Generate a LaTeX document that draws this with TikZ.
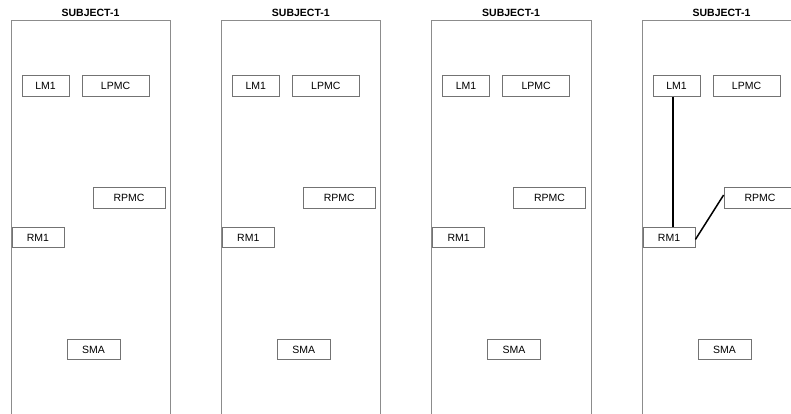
\documentclass[tikz,border=0pt]{standalone}
\usepackage{fontspec}
\setmainfont{Liberation Sans}
\begin{document}
\begin{tikzpicture}[x=1pt,y=-1pt,
  box/.style={draw=black!55,line width=0.8pt,fill=white,inner sep=0pt,minimum height=20.5pt,font=\fontsize{10.5}{12}\selectfont},
  frame/.style={draw=black!45,line width=0.8pt},
  title/.style={font=\bfseries\fontsize{10.5}{12}\selectfont,inner sep=0pt},
  link/.style={draw=black,line width=1.5pt}]
\useasboundingbox (0,0) rectangle (791,414);
\foreach \p/\L in {1/11,2/221.3,3/431.6,4/642} {
  \draw[frame] (\L,416) -- (\L,20) -- (\L+159.5,20) -- (\L+159.5,416);
  \node[title] (t\p) at (\L+79.5,12.5) {SUBJECT-1};
  \node[box,minimum width=47pt] (lm\p) at (\L+34.5,86) {LM1};
  \node[box,minimum width=67pt] (lp\p) at (\L+104.5,86) {LPMC};
  \node[box,minimum width=72pt] (rp\p) at (\L+118,198) {RPMC};
  \node[box,minimum width=52pt] (rm\p) at (\L+27,237.5) {RM1};
  \node[box,minimum width=53pt] (sm\p) at (\L+82.5,349.5) {SMA};
}
\draw[link] ([xshift=-3.5pt]lm4.south) -- ([xshift=-3.5pt]lm4.south |- rm4.north);
\draw[link] ([yshift=-2pt]rm4.east) -- ([yshift=3pt]rp4.west);
\end{tikzpicture}
\end{document}
